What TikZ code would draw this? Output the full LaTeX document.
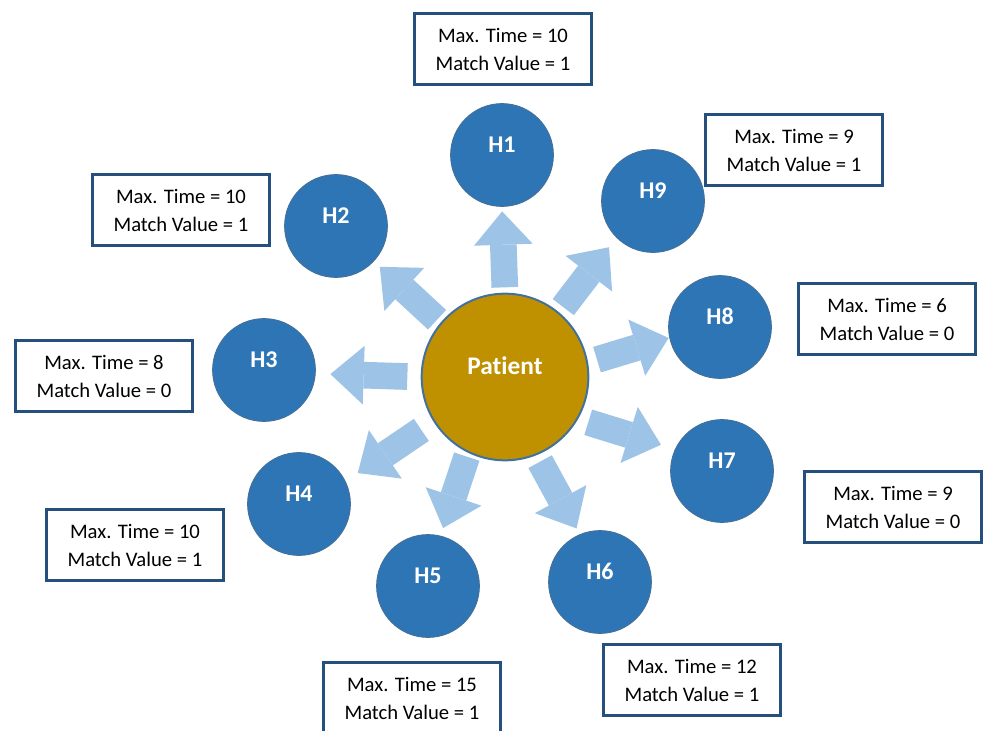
\documentclass[tikz,border=0pt]{standalone}
\usepackage{fontspec}
\setmainfont{Carlito}[Ligatures=NoCommon]
\definecolor{hosp_blue}{RGB}{46, 117, 182}
\definecolor{hosp_edge}{RGB}{65, 113, 156}
\definecolor{pat_gold}{RGB}{191, 144, 0}
\definecolor{arr_light}{RGB}{157, 195, 230}
\definecolor{box_blue}{RGB}{37, 80, 125}
\usetikzlibrary{arrows.meta}

\begin{document}
\begin{tikzpicture}[x=0.75pt, y=-0.75pt,
      hosp/.style={circle, draw=hosp_edge, line width=0.8pt, fill=hosp_blue,
                   minimum size=77pt, inner sep=0pt, text=white,
                   font=\fontsize{18}{20}\selectfont\bfseries,
                   text height=11.6pt, text depth=15pt},
      patient/.style={circle, draw=hosp_edge, line width=1.5pt, fill=pat_gold,
                      minimum size=125pt, inner sep=0pt, text=white,
                      font=\fontsize{19}{21}\selectfont\bfseries,
                      text height=12.2pt, text depth=16pt},
      info/.style={rectangle, draw=box_blue, line width=2.25pt, fill=white,
                   minimum width=133pt, minimum height=53pt, align=center,
                   font=\fontsize{15.5}{21}\selectfont},
      arr/.style={draw=arr_light, line width=20pt,
                  -{Triangle[width=44pt, length=25pt, line width=0pt]}},
    ]
      \useasboundingbox (0,0) rectangle (985,731);

      \node[patient] (pat) at (505, 377) {Patient};

      \node[hosp] (h1) at (502, 155) {H1};
      \node[hosp] (h2) at (336, 226) {H2};
      \node[hosp] (h3) at (264, 370) {H3};
      \node[hosp] (h4) at (299, 504) {H4};
      \node[hosp] (h5) at (428, 586) {H5};
      \node[hosp] (h6) at (600, 582) {H6};
      \node[hosp] (h7) at (722, 471) {H7};
      \node[hosp] (h8) at (720, 327) {H8};
      \node[hosp] (h9) at (653, 201) {H9};

      \draw[arr, shorten <=4pt, shorten >=3.4pt] (pat.90) -- (h1.-90);
      \draw[arr, shorten <=3.4pt, shorten >=6pt] (pat.140) -- (h2.-43);
      \draw[arr, shorten <=10pt, shorten >=11pt] (pat.180) -- (h3.-4);
      \draw[arr, shorten <=11pt, shorten >=11pt] (pat.-148) -- (h4.26);
      \draw[arr, shorten <=3pt, shorten >=6pt] (pat.-116) -- (h5.76);
      \draw[arr, shorten <=5.5pt, shorten >=5pt] (pat.-68) -- (h6.113);
      \draw[arr, shorten <=8pt, shorten >=11pt] (pat.-30) -- (h7.155);
      \draw[arr, shorten <=7pt, shorten >=0.5pt] (pat.10) -- (h8.192);
      \draw[arr, shorten <=5pt, shorten >=9pt] (pat.50) -- (h9.-135);

      \node[info] (b1) at (503, 49)  {Max. Time = 10\\Match Value = 1};
      \node[info] (b2) at (181, 210) {Max. Time = 10\\Match Value = 1};
      \node[info] (b3) at (104, 376) {Max. Time = 8\\Match Value = 0};
      \node[info] (b4) at (135, 545) {Max. Time = 10\\Match Value = 1};
      \node[info] (b5) at (412, 698) {Max. Time = 15\\Match Value = 1};
      \node[info] (b6) at (692, 680) {Max. Time = 12\\Match Value = 1};
      \node[info] (b7) at (893, 507) {Max. Time = 9\\Match Value = 0};
      \node[info] (b8) at (887, 319) {Max. Time = 6\\Match Value = 0};
      \node[info] (b9) at (794, 150) {Max. Time = 9\\Match Value = 1};
    \end{tikzpicture}
\end{document}
